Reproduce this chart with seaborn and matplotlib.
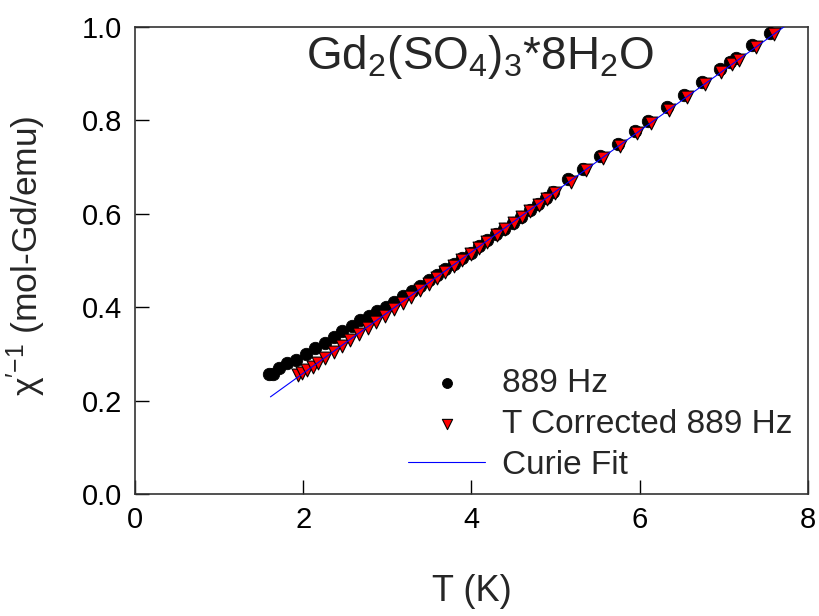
import numpy as np
import pandas as pd
import matplotlib
matplotlib.use("Agg")
import matplotlib.pyplot as plt
import seaborn as sns

# ---- data ----
T_raw = [1.59, 1.64, 1.71, 1.81, 1.91, 2.03, 2.14, 2.26, 2.36, 2.46, 2.58, 2.68, 2.78,
         2.88, 2.98, 3.08, 3.19, 3.29, 3.39, 3.49, 3.59, 3.69, 3.79, 3.89, 3.99, 4.09,
         4.19, 4.29, 4.39, 4.49, 4.59, 4.69, 4.79, 4.89, 4.97, 5.15, 5.33, 5.53, 5.74,
         5.94, 6.10, 6.32, 6.53, 6.74, 6.95, 7.07, 7.15, 7.34, 7.55]
chi_raw = [0.257, 0.258, 0.269, 0.280, 0.288, 0.300, 0.312, 0.324, 0.337, 0.348, 0.360,
           0.373, 0.381, 0.391, 0.401, 0.412, 0.423, 0.434, 0.446, 0.458, 0.469, 0.481,
           0.493, 0.505, 0.517, 0.530, 0.543, 0.556, 0.568, 0.581, 0.594, 0.608, 0.620,
           0.634, 0.646, 0.674, 0.697, 0.724, 0.750, 0.778, 0.799, 0.828, 0.855, 0.882,
           0.909, 0.924, 0.934, 0.962, 0.988]

T_corr = [1.94, 1.99, 2.05, 2.11, 2.17, 2.26, 2.36, 2.46, 2.56, 2.66, 2.77, 2.87, 2.97,
          3.08, 3.18, 3.28, 3.39, 3.49, 3.59, 3.69, 3.79, 3.89, 3.99, 4.09, 4.19, 4.30,
          4.40, 4.50, 4.60, 4.70, 4.80, 4.90, 4.99, 5.18, 5.36, 5.56, 5.77, 5.97, 6.13,
          6.35, 6.56, 6.77, 6.97, 7.10, 7.18, 7.38, 7.59]
chi_corr = [0.254, 0.259, 0.266, 0.273, 0.281, 0.291, 0.303, 0.316, 0.329, 0.342, 0.356,
            0.369, 0.382, 0.396, 0.409, 0.422, 0.436, 0.449, 0.462, 0.475, 0.488, 0.501,
            0.514, 0.527, 0.540, 0.554, 0.567, 0.580, 0.593, 0.606, 0.619, 0.632, 0.644,
            0.669, 0.693, 0.719, 0.746, 0.773, 0.794, 0.823, 0.850, 0.877, 0.904, 0.920,
            0.930, 0.957, 0.984]

fit_T = [1.61, 7.72]
fit_chi = [0.208, 1.001]

x_ticks = [0, 2, 4, 6, 8]
y_ticks = [0.0, 0.2, 0.4, 0.6, 0.8, 1.0]

labels = ["889 Hz", "T Corrected 889 Hz", "Curie Fit"]

df_raw = pd.DataFrame({"T": T_raw, "chi": chi_raw})
df_corr = pd.DataFrame({"T": T_corr, "chi": chi_corr})
df_fit = pd.DataFrame({"T": fit_T, "chi": fit_chi})

# ---- style ----
sns.set_style("white")
plt.rcParams["font.family"] = ["Liberation Sans", "DejaVu Sans"]
plt.rcParams["mathtext.fontset"] = "custom"
plt.rcParams["mathtext.rm"] = "Liberation Sans"
plt.rcParams["mathtext.it"] = "Liberation Sans:italic"
plt.rcParams["mathtext.sf"] = "Liberation Sans"

fig = plt.figure(figsize=(8.2, 6.16), dpi=100)
ax = fig.add_axes([135 / 820, 1 - 494 / 616, 673 / 820, 467 / 616])

sns.scatterplot(data=df_raw, x="T", y="chi", ax=ax, color="black", marker="o",
                s=80, edgecolor="black", linewidth=0.6, label=labels[0], zorder=3)
sns.scatterplot(data=df_corr, x="T", y="chi", ax=ax, color="#ff0000", marker="v",
                s=85, edgecolor="black", linewidth=0.8, label=labels[1], zorder=4)
sns.lineplot(data=df_fit, x="T", y="chi", ax=ax, color="#0000ff", linewidth=0.8,
             label=labels[2], zorder=5)

ax.set_xlim(0, 8)
ax.set_ylim(0, 1.0)
ax.set_xticks(x_ticks)
ax.set_xticklabels([f"{t:d}" for t in x_ticks])
ax.set_yticks(y_ticks)
ax.set_yticklabels([f"{t:.1f}" for t in y_ticks])
ax.tick_params(axis="both", direction="in", length=10, width=1.0, labelsize=21,
               colors="black", pad=9, bottom=True, left=True, top=False, right=False)
for sp in ax.spines.values():
    sp.set_color("#333333")
    sp.set_linewidth(1.2)

ax.set_xlabel("T (K)", fontsize=26)
ax.set_ylabel(r"χ$^{\prime\mathregular{-1}}$ (mol-Gd/emu)", fontsize=25.5)
ax.xaxis.set_label_coords(0.5, -0.172)
ax.yaxis.set_label_coords(-0.13, 0.51)

ax.text(0.513, 0.935, r"Gd$_2$(SO$_4$)$_3$*8H$_2$O", transform=ax.transAxes,
        ha="center", va="center", fontsize=33)

leg = ax.legend(loc="lower right", bbox_to_anchor=(1.011, -0.022), frameon=False,
                fontsize=24, handlelength=2.3, handletextpad=0.5, labelspacing=0.3,
                markerscale=0.8, borderpad=0.2)

fig.savefig("out.png", dpi=100)
